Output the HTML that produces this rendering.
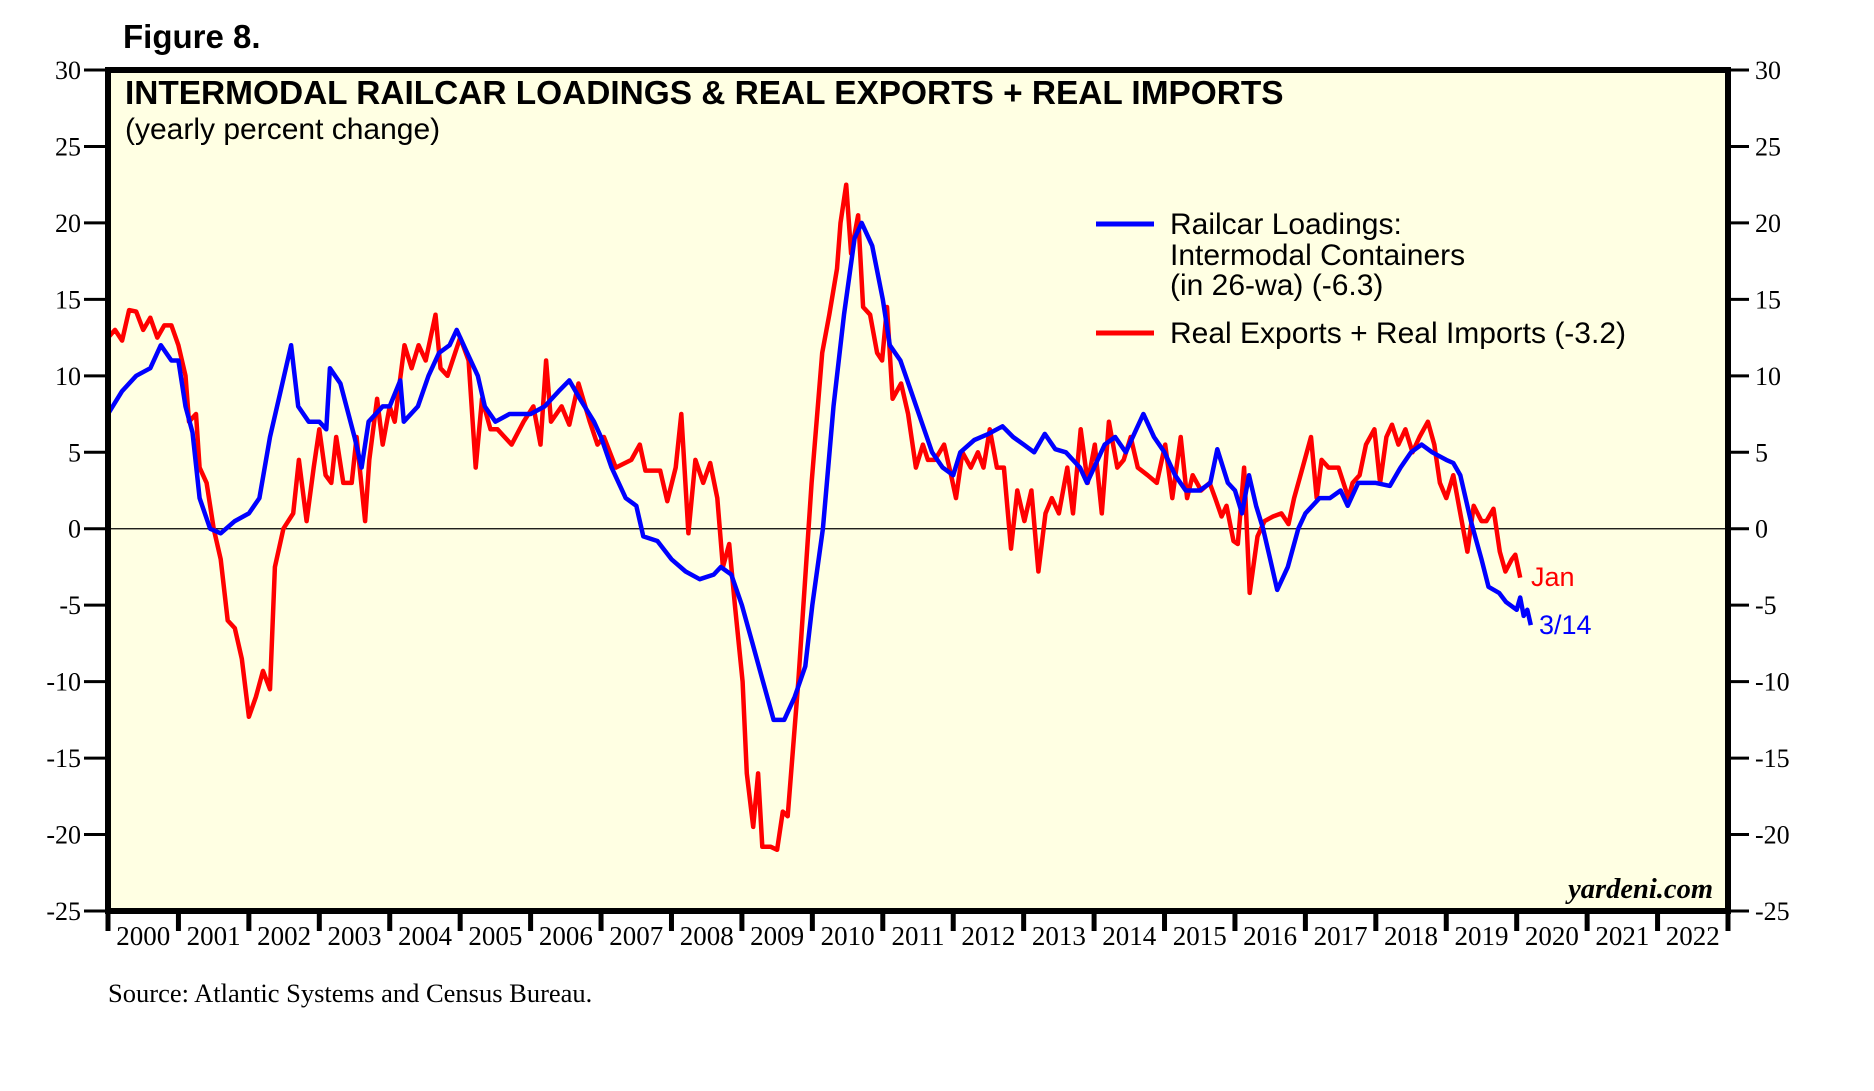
<!DOCTYPE html>
<html><head><meta charset="utf-8"><style>
body{margin:0;background:#fff}
svg{display:block}
</style></head><body>
<svg id="chart" width="1874" height="1091" xmlns="http://www.w3.org/2000/svg">
<text x="123" y="48" font-family="Liberation Sans" font-weight="bold" font-size="33">Figure 8.</text>
<rect x="108" y="70" width="1620" height="841" fill="#ffffe3"/>
<g id="axes"></g>
<g id="series"></g>
<rect x="108" y="70" width="1620" height="841" fill="none" stroke="#000" stroke-width="6"/>
<text x="125" y="104" font-family="Liberation Sans" font-weight="bold" font-size="33.4">INTERMODAL RAILCAR LOADINGS &amp; REAL EXPORTS + REAL IMPORTS</text>
<text x="125" y="139" font-family="Liberation Sans" font-size="30">(yearly percent change)</text>
<g font-family="Liberation Sans" font-size="30">
<line x1="1096" y1="224" x2="1154" y2="224" stroke="#0000ff" stroke-width="5"/>
<text x="1170" y="234">Railcar Loadings:</text>
<text x="1170" y="265">Intermodal Containers</text>
<text x="1170" y="295">(in 26-wa) (-6.3)</text>
<line x1="1096" y1="333" x2="1154" y2="333" stroke="#ff0000" stroke-width="5"/>
<text x="1170" y="343">Real Exports + Real Imports (-3.2)</text>
</g>
<text x="1531" y="586" font-family="Liberation Sans" font-size="27" fill="#ff0000">Jan</text>
<text x="1539" y="634" font-family="Liberation Sans" font-size="27" fill="#0000ff">3/14</text>
<text x="1713" y="898" text-anchor="end" font-family="Liberation Serif" font-style="italic" font-weight="bold" font-size="28.5">yardeni.com</text>
<text x="108" y="1002" font-family="Liberation Serif" font-size="26.5">Source: Atlantic Systems and Census Bureau.</text>
</svg>
<script>
const yTicks=[30,25,20,15,10,5,0,-5,-10,-15,-20,-25];
const years=[2000,2001,2002,2003,2004,2005,2006,2007,2008,2009,2010,2011,2012,2013,2014,2015,2016,2017,2018,2019,2020,2021,2022];
const railDates=[0,0.2,0.4,0.6,0.75,0.9,1.0,1.1,1.2,1.3,1.45,1.6,1.8,2.0,2.15,2.3,2.45,2.6,2.7,2.85,3.0,3.1,3.15,3.3,3.5,3.6,3.7,3.9,4.0,4.15,4.2,4.4,4.55,4.7,4.85,4.95,5.1,5.25,5.35,5.5,5.7,6.0,6.2,6.4,6.55,6.7,6.9,7.0,7.15,7.35,7.5,7.6,7.8,8.0,8.2,8.4,8.6,8.7,8.85,9.0,9.15,9.3,9.45,9.6,9.75,9.9,10.0,10.15,10.3,10.45,10.6,10.7,10.85,11.0,11.1,11.25,11.4,11.55,11.7,11.85,12.0,12.1,12.3,12.5,12.7,12.85,13.0,13.15,13.3,13.45,13.6,13.8,13.9,14.0,14.15,14.3,14.45,14.6,14.7,14.85,15.0,15.15,15.3,15.5,15.65,15.75,15.9,16.0,16.1,16.2,16.3,16.4,16.5,16.6,16.75,16.9,17.0,17.2,17.35,17.5,17.6,17.75,18.0,18.2,18.35,18.5,18.65,18.8,19.0,19.1,19.2,19.35,19.5,19.6,19.75,19.85,20.0,20.05,20.1,20.15,20.2];
const railValues=[7.5,9,10,10.5,12,11,11,8,6.3,2,0,-0.3,0.5,1,2,6,9,12,8,7,7,6.5,10.5,9.5,6,4,7,8,8,9.7,7,8,10,11.5,12,13,11.5,10,8,7,7.5,7.5,8,9,9.7,8.5,7,6,4,2,1.5,-0.5,-0.8,-2,-2.8,-3.3,-3,-2.5,-3,-5,-7.5,-10,-12.5,-12.5,-11,-9,-5,0,8,14,19,20,18.5,15,12,11,9,7,5,4,3.5,5,5.8,6.2,6.7,6,5.5,5,6.2,5.2,5,4,3,4,5.5,6,5,6.5,7.5,6,5,3.5,2.5,2.5,3,5.2,3,2.5,1,3.5,1.5,0,-2,-4,-2.5,0,1,2,2,2.5,1.5,3,3,2.8,4,5,5.5,5,4.5,4.3,3.5,0.5,-2,-3.8,-4.2,-4.8,-5.3,-4.5,-5.7,-5.3,-6.3];
const tradeDates=[0,0.1,0.2,0.3,0.4,0.5,0.6,0.7,0.8,0.9,1.0,1.1,1.15,1.25,1.3,1.4,1.5,1.6,1.7,1.8,1.9,2.0,2.1,2.2,2.3,2.37,2.49,2.63,2.71,2.82,2.92,3.00,3.09,3.17,3.24,3.34,3.46,3.53,3.65,3.71,3.82,3.90,4.00,4.07,4.21,4.31,4.41,4.51,4.65,4.72,4.82,5.00,5.12,5.22,5.31,5.43,5.53,5.73,5.90,6.04,6.14,6.22,6.29,6.44,6.55,6.68,6.84,6.95,7.04,7.21,7.43,7.55,7.63,7.84,7.94,8.06,8.14,8.24,8.34,8.45,8.55,8.65,8.73,8.82,8.90,9.01,9.07,9.16,9.23,9.29,9.41,9.50,9.58,9.65,9.80,9.99,10.14,10.24,10.35,10.40,10.48,10.55,10.65,10.72,10.82,10.92,10.99,11.06,11.14,11.26,11.36,11.47,11.57,11.64,11.74,11.87,11.97,12.04,12.13,12.25,12.35,12.43,12.52,12.62,12.72,12.82,12.91,13.01,13.11,13.21,13.31,13.40,13.50,13.62,13.70,13.81,13.91,14.01,14.11,14.21,14.33,14.42,14.52,14.62,14.76,14.89,15.01,15.11,15.23,15.32,15.40,15.52,15.64,15.72,15.81,15.88,15.98,16.04,16.13,16.21,16.32,16.42,16.54,16.66,16.76,16.84,16.96,17.08,17.16,17.23,17.33,17.47,17.61,17.67,17.77,17.86,17.98,18.06,18.15,18.23,18.32,18.42,18.52,18.62,18.74,18.83,18.91,19.00,19.10,19.20,19.30,19.39,19.50,19.57,19.67,19.76,19.84,19.93,19.98,20.05];
const tradeValues=[12.5,13,12.3,14.3,14.2,13,13.8,12.5,13.3,13.3,12,10,7,7.5,4,3,0,-2,-6,-6.5,-8.5,-12.3,-11,-9.3,-10.5,-2.5,0,1,4.5,0.5,4,6.5,3.5,3,6,3,3,6,0.5,4.5,8.5,5.5,8,7,12,10.5,12,11,14,10.5,10,12.5,11,4,8.5,6.5,6.5,5.5,7,8,5.5,11,7,8,6.8,9.5,7,5.5,6,4,4.5,5.5,3.8,3.8,1.8,4,7.5,-0.3,4.5,3,4.3,2,-2.5,-1,-5,-10,-16,-19.5,-16,-20.8,-20.8,-21,-18.5,-18.8,-10,3,11.5,14,17,20,22.5,18,20.5,14.5,14,11.5,11,14.5,8.5,9.5,7.5,4,5.5,4.5,4.5,5.5,3.5,2,5,4,5,4,6.5,4,4,-1.3,2.5,0.5,2.5,-2.8,1,2,1,4,1,6.5,3,5.5,1,7,4,4.5,6,4,3.5,3,5.5,2,6,2,3.5,2.5,3,2,0.8,1.5,-0.8,-1,4,-4.2,-0.5,0.5,0.8,1,0.3,2,4,6,2,4.5,4,4,2,3,3.5,5.5,6.5,3,6,6.8,5.5,6.5,5,6,7,5.5,3,2,3.5,1,-1.5,1.5,0.5,0.5,1.3,-1.5,-2.8,-2,-1.7,-3.2];

const NS='http://www.w3.org/2000/svg';
const X0=108,X1=1728,Y0=70,Y1=911;
const xScale=t=>X0+t*(X1-X0)/23;
const yScale=v=>Y1-(v+25)*(Y1-Y0)/55;
const axes=document.getElementById('axes');
const series=document.getElementById('series');
function mk(tag,attrs,parent){const e=document.createElementNS(NS,tag);for(const k in attrs)e.setAttribute(k,attrs[k]);parent.appendChild(e);return e;}
yTicks.forEach(v=>{
  const y=yScale(v);
  const l=mk('line',{x1:84,x2:108,y1:y,y2:y,stroke:'#000','stroke-width':3},axes);
  
  
  const r=mk('line',{x1:1728,x2:1749,y1:y,y2:y,stroke:'#000','stroke-width':3},axes);
  
  
  const t=mk('text',{x:81,y:y+9,'text-anchor':'end','font-family':'Liberation Serif','font-size':26},axes);
  t.textContent=v;
  
  
  const t2=mk('text',{x:1755,y:y+9,'font-family':'Liberation Serif','font-size':26},axes);
  t2.textContent=v;
  
  
});
const z=mk('line',{x1:X0,x2:X1,y1:yScale(0),y2:yScale(0),stroke:'#000','stroke-width':1.2},axes);


for(let i=0;i<=23;i++){
  const x=xScale(i);
  const l=mk('line',{x1:x,x2:x,y1:911,y2:931,stroke:'#000','stroke-width':5},axes);
  
  
}
years.forEach((yr,i)=>{
  const t=mk('text',{x:xScale(i+0.5),y:945,'text-anchor':'middle','font-family':'Liberation Serif','font-size':27},axes);
  t.textContent=yr;
  
  
});
function line(dates,vals,color,name){
  const d=dates.map((t,i)=>(i?'L':'M')+xScale(t).toFixed(1)+' '+yScale(vals[i]).toFixed(1)).join(' ');
  const p=mk('path',{d:d,fill:'none',stroke:color,'stroke-width':4.5,'stroke-linejoin':'round'},series);
  
  
}
line(tradeDates,tradeValues,'#ff0000','trade-line');
line(railDates,railValues,'#0000ff','railcar-line');
</script>
</body></html>
